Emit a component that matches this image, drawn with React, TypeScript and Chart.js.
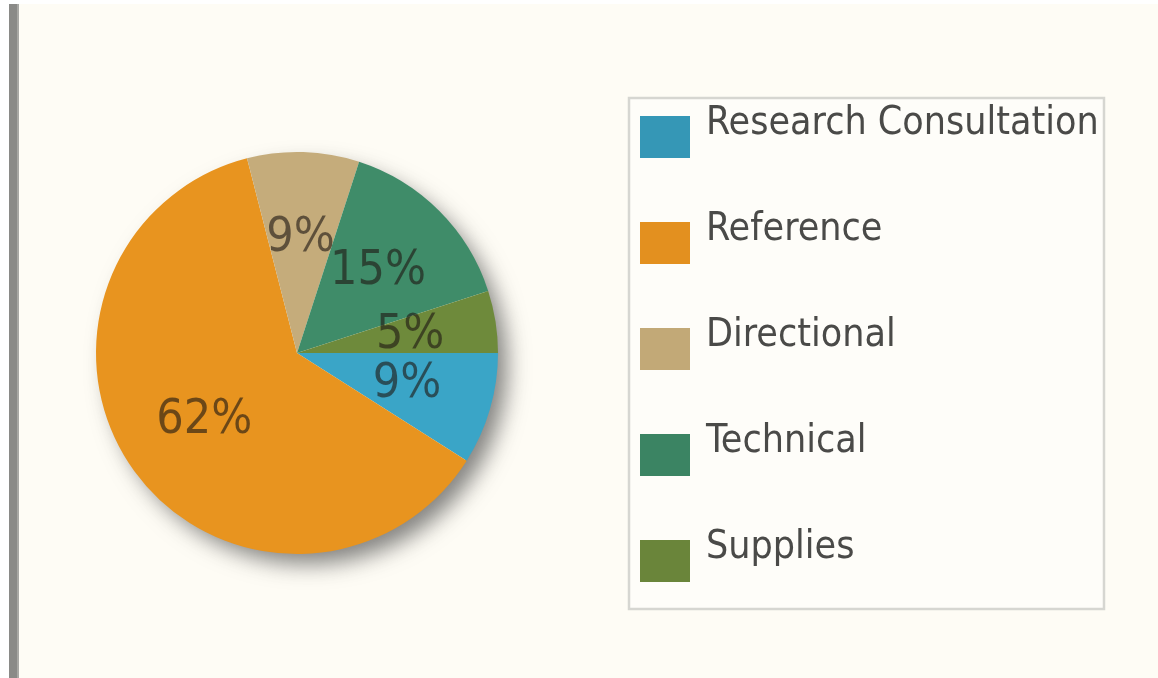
import React, { useEffect, useRef } from "react";
import { Chart, registerables } from "chart.js";

Chart.register(...registerables);

const categories = ["Research Consultation", "Reference", "Directional", "Technical", "Supplies"];
const shares = [9, 62, 9, 15, 5];
const sliceColors = ["#3aa5c7", "#e8941f", "#c5ac7b", "#3f8c69", "#6e8a3b"];
const swatchColors = ["#3597b6", "#e3901f", "#c2a977", "#3b8463", "#6a853a"];

const BG = "#fefcf5";

const backgroundPlugin = {
  id: "bgPlugin",
  beforeDraw(chart: any) {
    const { ctx, width, height } = chart;
    ctx.save();
    ctx.fillStyle = "#ffffff";
    ctx.fillRect(0, 0, width, height);
    ctx.fillStyle = BG;
    ctx.fillRect(19, 4, width - 19, height - 4);
    ctx.fillStyle = "#8a8a87";
    ctx.fillRect(9, 4, 10, height - 4);
    ctx.fillStyle = "#a8a8a4";
    ctx.fillRect(17, 4, 2, height - 4);
    ctx.restore();
  },
  beforeDatasetsDraw(chart: any) {
    const meta = chart.getDatasetMeta(0);
    const arc = meta.data[0];
    if (!arc) return;
    const { x, y, outerRadius } = arc.getProps(["x", "y", "outerRadius"], true);
    const { ctx } = chart;
    ctx.save();
    ctx.shadowColor = "rgba(50,50,50,0.6)";
    ctx.shadowBlur = 22;
    ctx.shadowOffsetX = 11;
    ctx.shadowOffsetY = 12;
    ctx.fillStyle = BG;
    ctx.beginPath();
    ctx.arc(x, y, outerRadius - 2, 0, Math.PI * 2);
    ctx.fill();
    ctx.restore();
  },
};

const labelPlugin = {
  id: "pctLabels",
  afterDatasetsDraw(chart: any) {
    const { ctx } = chart;
    const meta = chart.getDatasetMeta(0);
    const data = chart.data.datasets[0].data as number[];
    ctx.save();
    ctx.font = "48px 'DejaVu Sans Condensed', 'DejaVu Sans', sans-serif";
    ctx.textAlign = "center";
    ctx.textBaseline = "middle";
    ctx.fillStyle = "rgba(30,25,20,0.62)";
    meta.data.forEach((el: any, i: number) => {
      const { x, y, startAngle, endAngle, outerRadius } = el.getProps(
        ["x", "y", "startAngle", "endAngle", "outerRadius"],
        true
      );
      const mid = (startAngle + endAngle) / 2;
      const r = outerRadius * 0.57;
      ctx.fillText(`${data[i]}%`, x + Math.cos(mid) * r, y + Math.sin(mid) * r);
    });
    ctx.restore();
  },
};

const legendPlugin = {
  id: "boxLegend",
  afterDraw(chart: any) {
    const { ctx } = chart;
    const labels = chart.data.labels as string[];
    ctx.save();
    ctx.fillStyle = "#fefdf9";
    ctx.fillRect(629, 98, 475, 511);
    ctx.strokeStyle = "#d6d6d1";
    ctx.lineWidth = 2.5;
    ctx.strokeRect(629, 98, 475, 511);
    ctx.font = "39px 'DejaVu Sans Condensed', 'DejaVu Sans', sans-serif";
    ctx.textAlign = "left";
    ctx.textBaseline = "alphabetic";
    labels.forEach((lab, i) => {
      const top = 116 + i * 106;
      ctx.fillStyle = swatchColors[i];
      ctx.fillRect(640, top, 50, 42);
      ctx.fillStyle = "#4a4a48";
      ctx.fillText(lab, 706, top + 18);
    });
    ctx.restore();
  },
};

export default function App() {
  const canvasRef = useRef<HTMLCanvasElement | null>(null);

  useEffect(() => {
    document.body.style.margin = "0";
    const canvas = canvasRef.current;
    if (!canvas) return;
    const chart = new Chart(canvas, {
      type: "pie",
      data: {
        labels: categories,
        datasets: [
          {
            data: shares,
            backgroundColor: sliceColors,
            borderWidth: 0,
          },
        ],
      },
      options: {
        animation: false,
        responsive: true,
        maintainAspectRatio: false,
        rotation: 90,
        layout: { padding: { left: 96, right: 660, top: 152, bottom: 124 } },
        plugins: {
          legend: { display: false },
          tooltip: { enabled: false },
          title: { display: false },
        },
      },
      plugins: [backgroundPlugin, labelPlugin, legendPlugin],
    });
    return () => chart.destroy();
  }, []);

  return (
    <div style={{ position: "fixed", left: 0, top: 0, width: 1158, height: 678 }}>
      <canvas ref={canvasRef} />
    </div>
  );
}
